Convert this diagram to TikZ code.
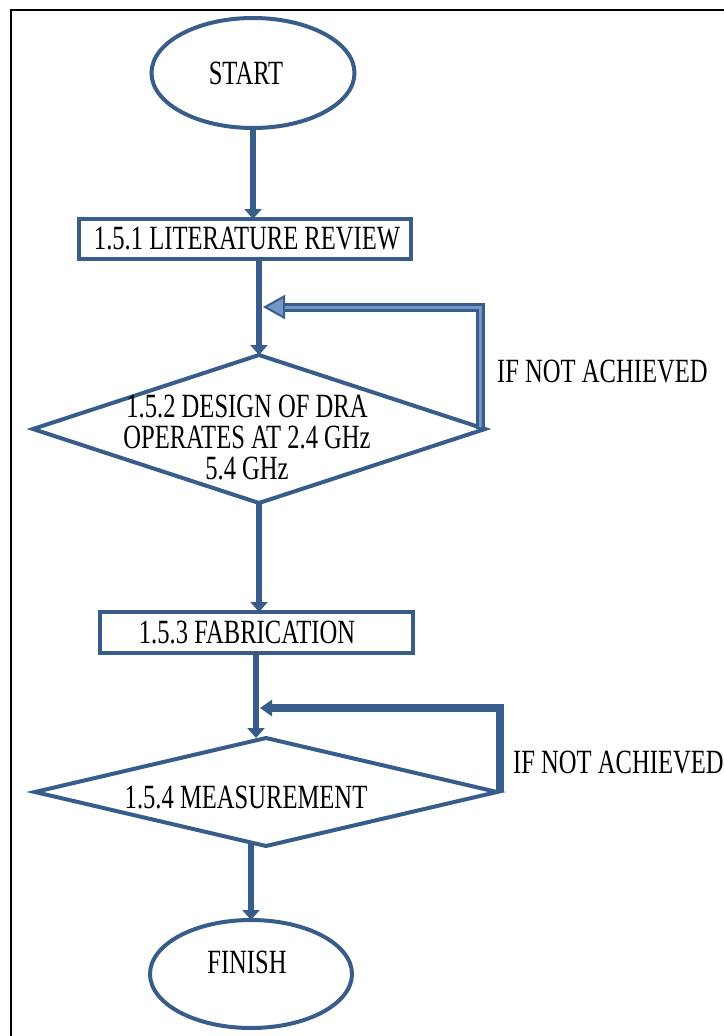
\documentclass[tikz,border=0pt]{standalone}
\usepackage{graphicx}
\usepackage{fontspec}
\setmainfont{Liberation Serif}
\usetikzlibrary{arrows.meta,shapes.geometric}
\definecolor{lc}{HTML}{385D8A}
\definecolor{lcl}{HTML}{7396C8}
\newcommand{\stx}[1]{\scalebox{1}[1.38]{#1}}
\begin{document}
\begin{tikzpicture}[x=1pt,y=-1pt,
  shp/.style={draw=lc,line width=4pt,inner sep=0pt,outer sep=0pt},
  lbl/.style={font=\fontsize{24.6}{31}\selectfont,inner sep=0pt,text=black},
  arr/.style={draw=lc,line width=6.5pt,-{Triangle[width=17pt,length=10pt]}},
  loopa/.style={draw=lc,line width=9pt,-{Triangle[width=24pt,length=22pt,fill=lcl,line width=2pt]}},
  loopain/.style={draw=lcl,line width=3pt},
  loopb/.style={draw=lc,line width=8pt,-{Triangle[width=16pt,length=12pt]}}
  ]
\useasboundingbox (0,0) rectangle (723,1036);
\fill[white] (0,0) rectangle (723,1036);
\draw[line width=2pt] (11,1045) -- (11,10) -- (735,10);

% shapes
\node[shp,ellipse,minimum width=203pt,minimum height=110pt] (start) at (253,73) {};
\node[shp,rectangle,minimum width=332pt,minimum height=40pt] (lit) at (245,239) {};
\node[shp,diamond,minimum width=452pt,minimum height=148pt] (d1) at (259,429) {};
\node[shp,rectangle,minimum width=313pt,minimum height=41pt] (fab) at (256,632.5) {};
\node[shp,diamond,minimum width=462pt,minimum height=108pt] (d2) at (266,792) {};
\node[shp,ellipse,minimum width=202pt,minimum height=108pt] (fin) at (251,974) {};

% labels
\node[lbl] (tstart) at (246,73) {\stx{START}};
\node[lbl] (tlit) at (247,239) {\stx{1.5.1 LITERATURE REVIEW}};
\node[lbl,align=center] (td1) at (247,437) {\stx{1.5.2 DESIGN OF DRA}\\\stx{OPERATES AT 2.4 GHz}\\\stx{5.4 GHz}};
\node[lbl] (tfab) at (247,632) {\stx{1.5.3 FABRICATION}};
\node[lbl] (td2) at (246,797) {\stx{1.5.4 MEASUREMENT}};
\node[lbl] (tfin) at (247,962) {\stx{FINISH}};
\node[lbl,anchor=west] (tif1) at (497,372) {\stx{IF NOT ACHIEVED}};
\node[lbl,anchor=west] (tif2) at (513,763) {\stx{IF NOT ACHIEVED}};

% junction points
\coordinate (m1) at (259,307);
\coordinate (m2) at (256,708);

% main arrows
\draw[arr] (start.south) -- (start.south |- lit.north);
\draw[arr] (lit.south -| d1.north) -- (d1.north);
\draw[arr] (d1.south) -- (d1.south |- fab.north);
\draw[arr] (fab.south -| m2) -- (m2 |- d2.north);
\draw[arr] ([yshift=3pt]d2.south -| fin.north) -- (fin.north);

% feedback loops
\draw[loopa] ([xshift=-5pt]d1.east) |- ([xshift=4pt]m1);
\draw[loopain] ([xshift=-5pt,yshift=2pt]d1.east) |- ([xshift=26pt]m1);
\draw[loopb] ([xshift=3pt]d2.east) |- ([xshift=4pt]m2);
\end{tikzpicture}
\end{document}
